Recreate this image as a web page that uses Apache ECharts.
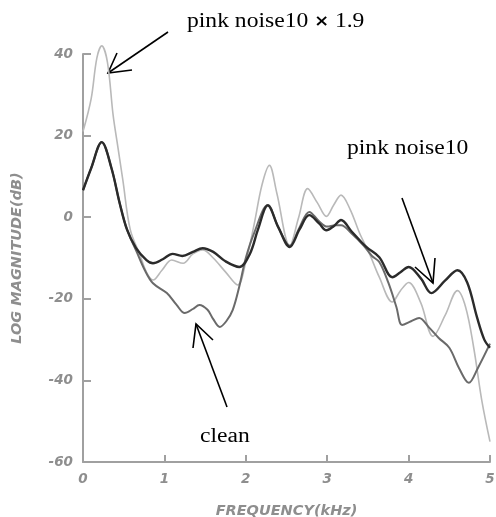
<!DOCTYPE html>
<html>
<head>
<meta charset="utf-8">
<script src="https://cdn.jsdelivr.net/npm/echarts@6/dist/echarts.min.js"></script>
<style>html,body{margin:0;padding:0;background:#fff;}#c{width:496px;height:517px;}</style>
</head>
<body>
<div id="c"></div>
<script>
// Frequency axis ticks (kHz) and magnitude ticks (dB)
var xTicks = [0, 1, 2, 3, 4, 5];
var yTicks = [-60, -40, -20, 0, 20, 40];

// pink noise10 x 1.9 (light curve)
var freqAmp = [0, 0.1, 0.17, 0.23, 0.3, 0.37, 0.43, 0.49, 0.58, 0.7, 0.78, 0.86, 0.97, 1.09, 1.23, 1.35, 1.47, 1.6, 1.75, 1.9, 2.0, 2.1, 2.2, 2.29, 2.38, 2.54, 2.65, 2.76, 2.88, 2.99, 3.08, 3.17, 3.28, 3.4, 3.52, 3.64, 3.8, 3.9, 4.0, 4.15, 4.3, 4.45, 4.6, 4.7, 4.8, 4.9, 5.0];
var magAmp  = [21, 29, 39, 42, 38, 25, 17, 9, -3, -9.3, -13.5, -15.4, -13, -10.5, -11.3, -9, -8, -10, -13.4, -16.6, -11, -2, 8, 12.7, 6, -7, 0, 7, 3.5, 0.2, 3, 5.4, 2, -4, -9, -14.7, -20.8, -18, -16, -21, -29.2, -24, -18, -22, -32, -45, -55];

// clean (medium grey curve)
var freqClean = [0, 0.1, 0.23, 0.35, 0.45, 0.54, 0.66, 0.76, 0.86, 1.03, 1.15, 1.25, 1.35, 1.43, 1.53, 1.6, 1.68, 1.76, 1.84, 1.92, 2.0, 2.1, 2.27, 2.4, 2.54, 2.66, 2.78, 2.9, 3.0, 3.1, 3.17, 3.3, 3.45, 3.55, 3.64, 3.75, 3.85, 3.92, 4.03, 4.13, 4.25, 4.37, 4.5, 4.62, 4.74, 4.85, 5.0];
var magClean  = [6.6, 12, 18.4, 12, 3.5, -3, -8.5, -13, -16.2, -18.6, -21.5, -23.5, -22.5, -21.5, -22.7, -25, -26.9, -25.5, -22.7, -17, -10, -4, 3, -2.5, -7, -2.5, 1.3, -1, -2.3, -2, -2, -4, -7, -9.5, -11, -16, -22, -26.4, -25.5, -24.7, -27, -29.6, -32, -37, -40.6, -37, -31];

// pink noise10 (dark curve)
var freqPink = [0, 0.1, 0.23, 0.35, 0.45, 0.54, 0.65, 0.78, 0.86, 0.98, 1.1, 1.22, 1.35, 1.47, 1.6, 1.75, 1.92, 2.05, 2.15, 2.27, 2.4, 2.54, 2.66, 2.78, 2.9, 2.99, 3.08, 3.17, 3.3, 3.48, 3.64, 3.8, 3.9, 4.0, 4.15, 4.28, 4.45, 4.6, 4.72, 4.84, 4.93, 5.0];
var magPink  = [6.6, 12, 18.4, 12, 3.5, -3, -7.5, -10.5, -11.3, -10.3, -9, -9.5, -8.5, -7.6, -8.5, -10.8, -12.2, -9, -3, 2.9, -2.5, -7.3, -3, 0.5, -1.5, -3.2, -2.2, -0.7, -3.5, -7.3, -9.8, -14.7, -13.5, -12.2, -15, -18.6, -15.5, -13, -16, -24.5, -30, -32];

function pairs(xs, ys) { return xs.map(function (x, i) { return [x, ys[i]]; }); }

var chart = echarts.init(document.getElementById('c'), null, {renderer: 'canvas'});
var tickFont = {fontFamily: 'DejaVu Sans', fontStyle: 'italic', fontWeight: 'bold', fontSize: 13.5, color: '#8e8e8e'};
var nameFont = {fontFamily: 'DejaVu Sans', fontStyle: 'italic', fontWeight: 'bold', fontSize: 14.5, color: '#8e8e8e'};
var axisGrey = '#a0a0a0';

chart.setOption({
  animation: false,
  backgroundColor: '#ffffff',
  grid: {left: 83, right: 6, top: 54, bottom: 55, containLabel: false, outerBoundsMode: 'none'},
  xAxis: {
    type: 'value', min: xTicks[0], max: xTicks[xTicks.length - 1], interval: 1,
    name: 'FREQUENCY(kHz)', nameLocation: 'middle', nameGap: 42,
    nameTextStyle: nameFont,
    axisLine: {show: true, onZero: false, lineStyle: {color: axisGrey, width: 2}},
    axisTick: {show: true, inside: true, length: 7, lineStyle: {color: axisGrey, width: 2}},
    axisLabel: Object.assign({margin: 10}, tickFont),
    splitLine: {show: false}
  },
  yAxis: {
    type: 'value', min: yTicks[0], max: yTicks[yTicks.length - 1], interval: 20,
    name: 'LOG MAGNITUDE(dB)', nameLocation: 'middle', nameGap: 58, nameRotate: 90,
    nameTextStyle: nameFont,
    axisLine: {show: true, onZero: false, lineStyle: {color: axisGrey, width: 2}},
    axisTick: {show: true, inside: true, length: 8, lineStyle: {color: axisGrey, width: 2}},
    axisLabel: Object.assign({margin: 10}, tickFont),
    splitLine: {show: false}
  },
  series: [
    {name: 'pink noise10 × 1.9', type: 'line', data: pairs(freqAmp, magAmp), smooth: 0.35, showSymbol: false, clip: false, z: 2,
     lineStyle: {color: '#b9b9b9', width: 1.6}},
    {name: 'clean', type: 'line', data: pairs(freqClean, magClean), smooth: 0.35, showSymbol: false, clip: false, z: 3,
     lineStyle: {color: '#6a6a6a', width: 2}},
    {name: 'pink noise10', type: 'line', data: pairs(freqPink, magPink), smooth: 0.35, showSymbol: false, clip: false, z: 4,
     lineStyle: {color: '#2b2b2b', width: 2.4}}
  ],
  graphic: [
    {type: 'text', left: 187, top: 12, scaleX: 1.18, style: {text: 'pink noise10 {b|×} 1.9', font: '20px "Liberation Serif"', fill: '#000',
      rich: {b: {fontFamily: 'DejaVu Sans', fontWeight: 'bold', fontSize: 15, fill: '#000'}}}},
    {type: 'polyline', shape: {points: [[168, 32], [108, 73]]}, style: {stroke: '#000', lineWidth: 1.6, fill: null}},
    {type: 'polyline', shape: {points: [[117, 53], [108, 73], [132, 70]]}, style: {stroke: '#000', lineWidth: 1.6, fill: null}},

    {type: 'text', left: 347, top: 139, scaleX: 1.18, style: {text: 'pink noise10', font: '20px "Liberation Serif"', fill: '#000'}},
    {type: 'polyline', shape: {points: [[402, 198], [433, 283]]}, style: {stroke: '#000', lineWidth: 1.6, fill: null}},
    {type: 'polyline', shape: {points: [[415, 267], [433, 283], [435, 258]]}, style: {stroke: '#000', lineWidth: 1.6, fill: null}},

    {type: 'text', left: 200, top: 427, scaleX: 1.18, style: {text: 'clean', font: '20px "Liberation Serif"', fill: '#000'}},
    {type: 'polyline', shape: {points: [[227, 407], [196, 324]]}, style: {stroke: '#000', lineWidth: 1.6, fill: null}},
    {type: 'polyline', shape: {points: [[193, 348], [196, 324], [213, 340]]}, style: {stroke: '#000', lineWidth: 1.6, fill: null}}
  ]
});
</script>
</body>
</html>
